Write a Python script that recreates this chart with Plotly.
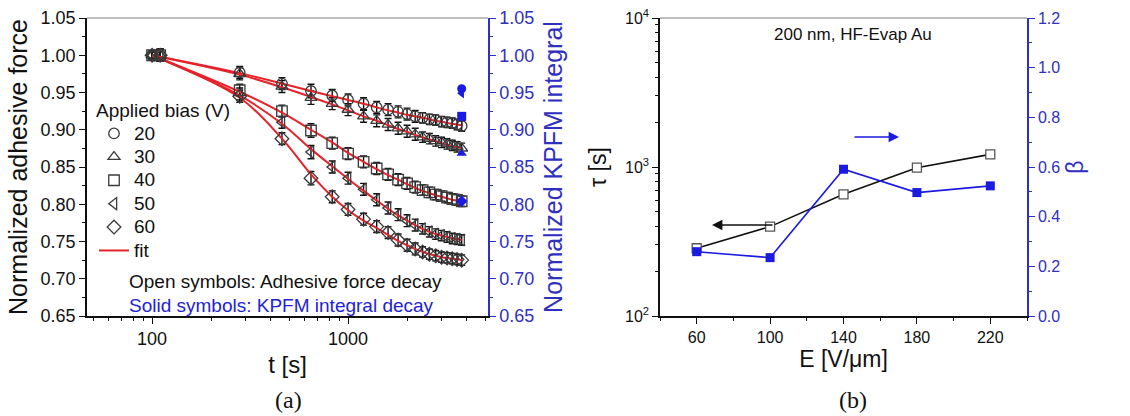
import plotly.graph_objects as go

# ---------------- Panel (a): adhesive force decay ----------------
t_s = [100, 110, 280, 460, 647, 830, 1000, 1200, 1400, 1600, 1800, 2000,
       2200, 2400, 2600, 2800, 3000, 3200, 3400, 3600, 3800]

bias_labels = ["20", "30", "40", "50", "60"]
bias_symbols = ["circle-open", "triangle-up-open", "square-open",
                "triangle-left-open", "diamond-open"]

force_20 = [1.000, 1.000, 0.977, 0.962, 0.952, 0.946, 0.940, 0.935, 0.930, 0.927, 0.924,
            0.921, 0.918, 0.916, 0.914, 0.913, 0.911, 0.910, 0.909, 0.907, 0.905]
force_30 = [1.000, 1.000, 0.975, 0.958, 0.943, 0.935, 0.927, 0.918, 0.912, 0.907, 0.902,
            0.898, 0.894, 0.890, 0.888, 0.885, 0.883, 0.881, 0.879, 0.877, 0.875]
force_40 = [1.000, 1.000, 0.953, 0.925, 0.899, 0.882, 0.868, 0.857, 0.848, 0.840, 0.833,
            0.828, 0.823, 0.819, 0.816, 0.813, 0.811, 0.809, 0.807, 0.806, 0.804]
force_50 = [1.000, 1.000, 0.948, 0.910, 0.870, 0.850, 0.835, 0.820, 0.806, 0.795, 0.786,
            0.778, 0.772, 0.767, 0.763, 0.760, 0.758, 0.756, 0.754, 0.753, 0.752]
force_60 = [1.000, 1.000, 0.945, 0.888, 0.835, 0.810, 0.793, 0.780, 0.770, 0.762, 0.752,
            0.745, 0.740, 0.736, 0.733, 0.731, 0.729, 0.728, 0.727, 0.726, 0.725]
force_err = [0.005, 0.008, 0.008, 0.008, 0.009, 0.008, 0.008, 0.008, 0.008, 0.008, 0.008,
             0.008, 0.008, 0.007, 0.007, 0.007, 0.007, 0.007, 0.007, 0.007, 0.007]

# stretched-exponential fit curves, evaluated on the same time grid
fit_t = [100, 280, 460, 647, 830, 1000, 1200, 1400, 1600, 1800, 2000,
         2200, 2400, 2600, 2800, 3000, 3200, 3400, 3600, 3800]
fit_20 = [1.000, 0.976, 0.962, 0.952, 0.945, 0.940, 0.935, 0.930, 0.926, 0.923,
          0.920, 0.918, 0.916, 0.914, 0.912, 0.911, 0.909, 0.908, 0.907, 0.906]
fit_30 = [1.000, 0.974, 0.957, 0.944, 0.934, 0.926, 0.918, 0.912, 0.906, 0.901,
          0.897, 0.893, 0.890, 0.887, 0.885, 0.882, 0.880, 0.878, 0.877, 0.875]
fit_40 = [1.000, 0.951, 0.923, 0.900, 0.883, 0.869, 0.857, 0.847, 0.839, 0.833,
          0.827, 0.822, 0.818, 0.815, 0.812, 0.810, 0.808, 0.806, 0.805, 0.804]
fit_50 = [1.000, 0.946, 0.908, 0.874, 0.851, 0.834, 0.818, 0.805, 0.794, 0.785,
          0.778, 0.772, 0.767, 0.763, 0.760, 0.758, 0.756, 0.754, 0.753, 0.752]
fit_60 = [1.000, 0.943, 0.888, 0.840, 0.810, 0.792, 0.778, 0.768, 0.759, 0.751,
          0.745, 0.740, 0.736, 0.733, 0.731, 0.729, 0.728, 0.727, 0.726, 0.725]

# KPFM integral at the last time point (right axis)
kpfm_t = 3800
kpfm_vals = [0.955, 0.868, 0.918, 0.949, 0.804]
kpfm_symbols = ["circle", "triangle-up", "square", "triangle-left", "diamond"]

# ---------------- Panel (b): fit parameters vs field ----------------
field_E = [60, 100, 140, 180, 220]
tau_s = [285, 398, 656, 989, 1216]
beta = [0.259, 0.235, 0.591, 0.497, 0.524]

RED = "#e5232b"
BLUE = "#1a1ae0"
AXBLUE = "#3030c0"
FONT = "Liberation Sans, Arial, sans-serif"
SERIF = "Liberation Serif, Times New Roman, serif"

W, H = 1130, 416
ax_a = [87 / W, 488 / W]
ax_b = [660 / W, 1027 / W]
ydom = [1 - 316 / H, 1 - 18 / H]


def legend_label(s):
    # larger label text while keeping the compact legend row height
    return "<span style='font-size:19px'>" + s + "</span>"


fig = go.Figure()

forces = [force_20, force_30, force_40, force_50, force_60]
fits = [fit_20, fit_30, fit_40, fit_50, fit_60]

# error bars (drawn without markers)
for vals in forces:
    fig.add_trace(go.Scatter(
        x=t_s, y=vals, mode="markers", showlegend=False, hoverinfo="skip",
        marker=dict(size=1, color="rgba(0,0,0,0)"),
        error_y=dict(type="data", array=force_err, color="#111", thickness=1.4, width=3.5),
        xaxis="x", yaxis="y"))

# fit curves
for vals in fits:
    fig.add_trace(go.Scatter(
        x=fit_t, y=vals, mode="lines", line=dict(color=RED, width=2, shape="spline"),
        name="fit", showlegend=False, xaxis="x", yaxis="y"))

# open symbols
for lab, sym, vals in zip(bias_labels, bias_symbols, forces):
    fig.add_trace(go.Scatter(
        x=t_s, y=vals, mode="markers", name=legend_label(lab),
        marker=dict(symbol=sym, size=10.5, color="#3a3a3a",
                    line=dict(width=1.3, color="#3a3a3a")),
        xaxis="x", yaxis="y"))

fig.add_trace(go.Scatter(
    x=[None], y=[None], mode="lines", name=legend_label("fit"),
    line=dict(color=RED, width=2), xaxis="x", yaxis="y"))

# solid symbols on the KPFM axis
for sym, v in zip(kpfm_symbols, kpfm_vals):
    fig.add_trace(go.Scatter(
        x=[kpfm_t], y=[v], mode="markers", showlegend=False,
        marker=dict(symbol=sym, size=9, color=BLUE), xaxis="x", yaxis="y2"))

# panel (b)
fig.add_trace(go.Scatter(
    x=field_E, y=tau_s, mode="lines+markers", showlegend=False,
    line=dict(color="#111", width=1.6),
    marker=dict(symbol="square", size=9, color="white", line=dict(color="#555", width=1.3)),
    xaxis="x2", yaxis="y3"))
fig.add_trace(go.Scatter(
    x=field_E, y=beta, mode="lines+markers", showlegend=False,
    line=dict(color=BLUE, width=1.6),
    marker=dict(symbol="square", size=9, color=BLUE),
    xaxis="x2", yaxis="y4"))

tickfont_a = dict(family=FONT, size=18, color="#111")
tickfont_b = dict(family=FONT, size=16, color="#111")

fig.update_layout(
    width=W, height=H, margin=dict(l=0, r=0, t=0, b=0, autoexpand=False),
    paper_bgcolor="white", plot_bgcolor="white",
    font=dict(family=FONT, color="#111"),
    showlegend=True,
    legend=dict(
        x=94 / W, xanchor="left", y=1 - 92 / H, yanchor="top",
        bgcolor="rgba(0,0,0,0)", borderwidth=0,
        font=dict(family=FONT, size=15.7, color="#111"),
        title=dict(text="Applied bias (V)", font=dict(family=FONT, size=19, color="#111")),
        tracegroupgap=0, itemwidth=30),
    xaxis=dict(
        type="log", domain=ax_a, anchor="y", range=[1.668, 3.714], automargin=False,
        tickvals=[100, 1000], ticktext=["100", "1000"],
        ticks="outside", ticklen=6, tickwidth=1.3, tickcolor="#111",
        minor=dict(tickvals=[50, 60, 70, 80, 90, 200, 300, 400, 500, 600, 700, 800, 900,
                             2000, 3000, 4000, 5000],
                   ticks="outside", ticklen=3, tickwidth=1.2, tickcolor="#111"),
        showline=True, linecolor="#111", linewidth=1.5, showgrid=False, zeroline=False,
        tickfont=tickfont_a,
        title=dict(text="t [s]", font=dict(family=FONT, size=24, color="#111"), standoff=8)),
    yaxis=dict(
        domain=ydom, anchor="x", range=[0.65, 1.05], dtick=0.05, tickformat=".2f",
        automargin=False,
        ticks="outside", ticklen=6, tickwidth=1.3, tickcolor="#111",
        minor=dict(dtick=0.025, ticks="outside", ticklen=3, tickwidth=1.2, tickcolor="#111"),
        showline=True, linecolor="#111", linewidth=1.5, showgrid=False, zeroline=False,
        tickfont=tickfont_a,
        title=dict(text="Normalized adhesive force",
                   font=dict(family=FONT, size=25, color="#111"), standoff=6)),
    yaxis2=dict(
        overlaying="y", anchor="x", side="right", range=[0.65, 1.05], dtick=0.05,
        tickformat=".2f", automargin=False,
        ticks="outside", ticklen=6, tickwidth=1.3, tickcolor=AXBLUE,
        minor=dict(dtick=0.025, ticks="outside", ticklen=3, tickwidth=1.2, tickcolor=AXBLUE),
        showline=True, linecolor=AXBLUE, linewidth=1.5, showgrid=False, zeroline=False,
        tickfont=dict(family=FONT, size=18, color=AXBLUE),
        title=dict(text="Normalized KPFM integral",
                   font=dict(family=FONT, size=25, color=AXBLUE), standoff=11)),
    xaxis2=dict(
        domain=ax_b, anchor="y3", range=[40, 240], automargin=False,
        tickvals=field_E, ticks="outside", ticklen=6, tickwidth=1.3, tickcolor="#111",
        minor=dict(dtick=20, tick0=40, ticks="outside", ticklen=3, tickwidth=1.2,
                   tickcolor="#111"),
        showline=True, linecolor="#111", linewidth=1.5, showgrid=False, zeroline=False,
        tickfont=tickfont_b,
        title=dict(text="E [V/μm]", font=dict(family=FONT, size=23, color="#111"),
                   standoff=4)),
    yaxis3=dict(
        type="log", domain=ydom, anchor="x2", range=[2, 4], automargin=False,
        tickvals=[100, 1000, 10000],
        ticktext=["10<sup>2</sup>", "10<sup>3</sup>", "10<sup>4</sup>"],
        ticks="outside", ticklen=6, tickwidth=1.3, tickcolor="#111",
        minor=dict(tickvals=[200, 300, 400, 500, 600, 700, 800, 900,
                             2000, 3000, 4000, 5000, 6000, 7000, 8000, 9000],
                   ticks="outside", ticklen=3, tickwidth=1.2, tickcolor="#111"),
        showline=True, linecolor="#111", linewidth=1.5, showgrid=False, zeroline=False,
        tickfont=tickfont_b,
        title=dict(text="τ [s]", font=dict(family=FONT, size=23, color="#111"), standoff=12)),
    yaxis4=dict(
        overlaying="y3", anchor="x2", side="right", range=[0, 1.2], dtick=0.2,
        tickformat=".1f", automargin=False,
        ticks="outside", ticklen=6, tickwidth=1.3, tickcolor=AXBLUE,
        minor=dict(dtick=0.1, ticks="outside", ticklen=3, tickwidth=1.2, tickcolor=AXBLUE),
        showline=True, linecolor=AXBLUE, linewidth=1.5, showgrid=False, zeroline=False,
        tickfont=dict(family=FONT, size=16, color=AXBLUE),
        title=dict(text="β", font=dict(family=FONT, size=23, color=AXBLUE), standoff=8)),
)

# light top frame lines
for dom in (ax_a, ax_b):
    fig.add_shape(type="line", xref="paper", yref="paper",
                  x0=dom[0], x1=dom[1], y0=ydom[1], y1=ydom[1],
                  line=dict(color="#a8a8a8", width=1.5))

ann = [
    dict(text="Open symbols: Adhesive force decay", x=127 / W, y=1 - 281 / H,
         xanchor="left", yanchor="middle", font=dict(family=FONT, size=19, color="#111")),
    dict(text="Solid symbols: KPFM integral decay", x=127 / W, y=1 - 305 / H,
         xanchor="left", yanchor="middle", font=dict(family=FONT, size=19, color="#2222d8")),
    dict(text="(a)", x=288 / W, y=1 - 400 / H, xanchor="center", yanchor="middle",
         font=dict(family=SERIF, size=24, color="#111")),
    dict(text="(b)", x=853 / W, y=1 - 400 / H, xanchor="center", yanchor="middle",
         font=dict(family=SERIF, size=24, color="#111")),
    dict(text="200 nm, HF-Evap Au", x=853 / W, y=1 - 34 / H, xanchor="center",
         yanchor="middle", font=dict(family=FONT, size=17, color="#111")),
]
for a in ann:
    fig.add_annotation(xref="paper", yref="paper", showarrow=False, **a)

# direction arrows pointing to the relevant axis
fig.add_annotation(xref="paper", yref="paper", x=712 / W, y=1 - 225 / H, ax=62, ay=0,
                   text="", showarrow=True, arrowhead=2, arrowsize=1.3, arrowwidth=1.6,
                   arrowcolor="#111")
fig.add_annotation(xref="paper", yref="paper", x=899 / W, y=1 - 137 / H, ax=-46, ay=0,
                   text="", showarrow=True, arrowhead=2, arrowsize=1.3, arrowwidth=1.6,
                   arrowcolor=BLUE)

fig.write_html("out.html")
